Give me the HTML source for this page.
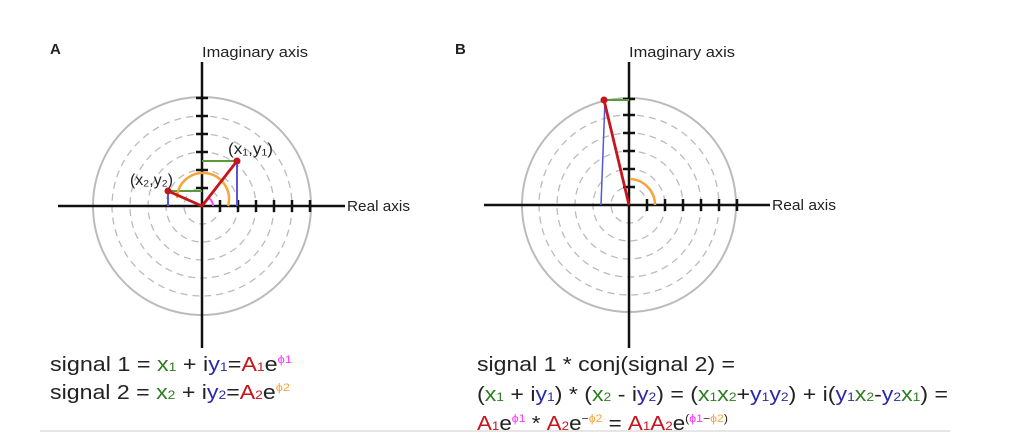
<!DOCTYPE html>
<html><head><meta charset="utf-8"><style>
html,body{margin:0;padding:0;background:#fff;}
svg{display:block}
text{font-family:"Liberation Sans Narrow","Liberation Sans",sans-serif;}
.e{font-size:20px;fill:#222}
.g{fill:#2e7d22}.b{fill:#2a2aa8}.r{fill:#c4161c}.m{fill:#ff33ff}.o{fill:#f7a43a}
</style></head><body>
<svg width="1022" height="437" viewBox="0 0 1022 437" xmlns="http://www.w3.org/2000/svg">
<g fill="none">
<!-- Panel A -->
<circle cx="202" cy="206" r="109" stroke="#bbb" stroke-width="2"/>
<g stroke="#bbb" stroke-width="1.3" stroke-dasharray="7,5">
<circle cx="202" cy="206" r="18"/><circle cx="202" cy="206" r="36"/><circle cx="202" cy="206" r="54"/><circle cx="202" cy="206" r="72"/><circle cx="202" cy="206" r="90"/>
</g>
<line x1="58" y1="206" x2="345" y2="206" stroke="#111" stroke-width="2.5"/>
<line x1="202" y1="62" x2="202" y2="348" stroke="#111" stroke-width="2.5"/>
<g stroke="#111" stroke-width="2.5">
<line x1="220" y1="200" x2="220" y2="212"/><line x1="238" y1="200" x2="238" y2="212"/><line x1="256" y1="200" x2="256" y2="212"/><line x1="274" y1="200" x2="274" y2="212"/><line x1="292" y1="200" x2="292" y2="212"/><line x1="310" y1="200" x2="310" y2="212"/>
<line x1="196" y1="188" x2="208" y2="188"/><line x1="196" y1="170" x2="208" y2="170"/><line x1="196" y1="152" x2="208" y2="152"/><line x1="196" y1="134" x2="208" y2="134"/><line x1="196" y1="116" x2="208" y2="116"/><line x1="196" y1="98" x2="208" y2="98"/>
</g>
<line x1="202" y1="161" x2="237" y2="161" stroke="#5a9a3a" stroke-width="2"/>
<line x1="168" y1="191" x2="202" y2="191" stroke="#5a9a3a" stroke-width="2"/>
<line x1="237" y1="161" x2="237" y2="206" stroke="#5555dd" stroke-width="2"/>
<line x1="168" y1="191" x2="168" y2="206" stroke="#5555dd" stroke-width="2"/>
<path d="M228,206 A26,26 0 1 0 177,198" stroke="#f7a43a" stroke-width="2.5"/>
<path d="M213,206 A11,11 0 0 0 209,198" stroke="#ff44ff" stroke-width="2"/>
<polyline points="237,161 202,206 168,191" stroke="#c4161c" stroke-width="2.8"/>
<circle cx="237" cy="161" r="3.5" fill="#c4161c" stroke="none"/>
<circle cx="168" cy="191" r="3.5" fill="#c4161c" stroke="none"/>
<!-- Panel B -->
<circle cx="629" cy="205" r="107" stroke="#bbb" stroke-width="2"/>
<g stroke="#bbb" stroke-width="1.3" stroke-dasharray="7,5">
<circle cx="629" cy="205" r="18"/><circle cx="629" cy="205" r="36"/><circle cx="629" cy="205" r="54"/><circle cx="629" cy="205" r="72"/><circle cx="629" cy="205" r="90"/>
</g>
<line x1="484" y1="205" x2="770" y2="205" stroke="#111" stroke-width="2.5"/>
<line x1="629" y1="62" x2="629" y2="348" stroke="#111" stroke-width="2.5"/>
<g stroke="#111" stroke-width="2.5">
<line x1="647" y1="199" x2="647" y2="211"/><line x1="665" y1="199" x2="665" y2="211"/><line x1="683" y1="199" x2="683" y2="211"/><line x1="701" y1="199" x2="701" y2="211"/><line x1="719" y1="199" x2="719" y2="211"/><line x1="737" y1="199" x2="737" y2="211"/>
<line x1="623" y1="187" x2="635" y2="187"/><line x1="623" y1="169" x2="635" y2="169"/><line x1="623" y1="151" x2="635" y2="151"/><line x1="623" y1="133" x2="635" y2="133"/><line x1="623" y1="115" x2="635" y2="115"/><line x1="623" y1="99" x2="635" y2="99"/>
</g>
<line x1="604" y1="100" x2="629" y2="100" stroke="#5a9a3a" stroke-width="2"/>
<line x1="605" y1="100" x2="601" y2="205" stroke="#5555dd" stroke-width="1.5"/>
<path d="M655,205 A26,26 0 0 0 630,179" stroke="#f7a43a" stroke-width="2.5"/>
<line x1="604" y1="100" x2="629" y2="205" stroke="#c4161c" stroke-width="2.8"/>
<circle cx="604" cy="100" r="3.5" fill="#c4161c" stroke="none"/>
</g>
<g font-family="Liberation Sans" fill="#222">
<text x="50" y="54" font-size="15" font-weight="bold">A</text>
<text x="455" y="54" font-size="15" font-weight="bold">B</text>
</g>
<g class="e" style="font-size:15px">
<text x="202" y="57" textLength="106" lengthAdjust="spacingAndGlyphs">Imaginary axis</text>
<text x="347" y="211" textLength="63" lengthAdjust="spacingAndGlyphs">Real axis</text>
<text x="629" y="57" textLength="106" lengthAdjust="spacingAndGlyphs">Imaginary axis</text>
<text x="772" y="210" textLength="64" lengthAdjust="spacingAndGlyphs">Real axis</text>
<text x="228" y="154" font-size="16" textLength="45" lengthAdjust="spacingAndGlyphs">(x₁,y₁)</text>
<text x="130" y="185" font-size="16" textLength="43" lengthAdjust="spacingAndGlyphs">(x₂,y₂)</text>
</g>
<text class="e" x="50" y="371" textLength="242" lengthAdjust="spacingAndGlyphs">signal 1 = <tspan class="g">x<tspan font-size="12">1</tspan></tspan> + i<tspan class="b">y<tspan font-size="12">1</tspan></tspan>=<tspan class="r">A<tspan font-size="12">1</tspan></tspan>e<tspan class="m" font-size="11" dy="-8">ϕ1</tspan></text>
<text class="e" x="50" y="399" textLength="240" lengthAdjust="spacingAndGlyphs">signal 2 = <tspan class="g">x<tspan font-size="12">2</tspan></tspan> + i<tspan class="b">y<tspan font-size="12">2</tspan></tspan>=<tspan class="r">A<tspan font-size="12">2</tspan></tspan>e<tspan class="o" font-size="11" dy="-8">ϕ2</tspan></text>
<text class="e" x="477" y="371" textLength="258" lengthAdjust="spacingAndGlyphs">signal 1 * conj(signal 2) =</text>
<text class="e" x="477" y="401" textLength="471" lengthAdjust="spacingAndGlyphs">(<tspan class="g">x<tspan font-size="12">1</tspan></tspan> + i<tspan class="b">y<tspan font-size="12">1</tspan></tspan>) * (<tspan class="g">x<tspan font-size="12">2</tspan></tspan> - i<tspan class="b">y<tspan font-size="12">2</tspan></tspan>) = (<tspan class="g">x<tspan font-size="12">1</tspan>x<tspan font-size="12">2</tspan></tspan>+<tspan class="b">y<tspan font-size="12">1</tspan>y<tspan font-size="12">2</tspan></tspan>) + i(<tspan class="b">y<tspan font-size="12">1</tspan></tspan><tspan class="g">x<tspan font-size="12">2</tspan></tspan>-<tspan class="b">y<tspan font-size="12">2</tspan></tspan><tspan class="g">x<tspan font-size="12">1</tspan></tspan>) =</text>
<text class="e" x="477" y="430" textLength="251" lengthAdjust="spacingAndGlyphs"><tspan class="r">A<tspan font-size="12">1</tspan></tspan>e<tspan class="m" font-size="11" dy="-8">ϕ1</tspan><tspan dy="8"> * </tspan><tspan class="r">A<tspan font-size="12">2</tspan></tspan>e<tspan font-size="11" dy="-8">−</tspan><tspan class="o" font-size="11">ϕ2</tspan><tspan dy="8"> = </tspan><tspan class="r">A<tspan font-size="12">1</tspan>A<tspan font-size="12">2</tspan></tspan>e<tspan font-size="11" dy="-8">(</tspan><tspan class="m" font-size="11">ϕ1</tspan><tspan font-size="11">−</tspan><tspan class="o" font-size="11">ϕ2</tspan><tspan font-size="11">)</tspan></text>
<line x1="40" y1="431" x2="950" y2="431" stroke="#ddd" stroke-width="1.5"/>
</svg>
</body></html>
